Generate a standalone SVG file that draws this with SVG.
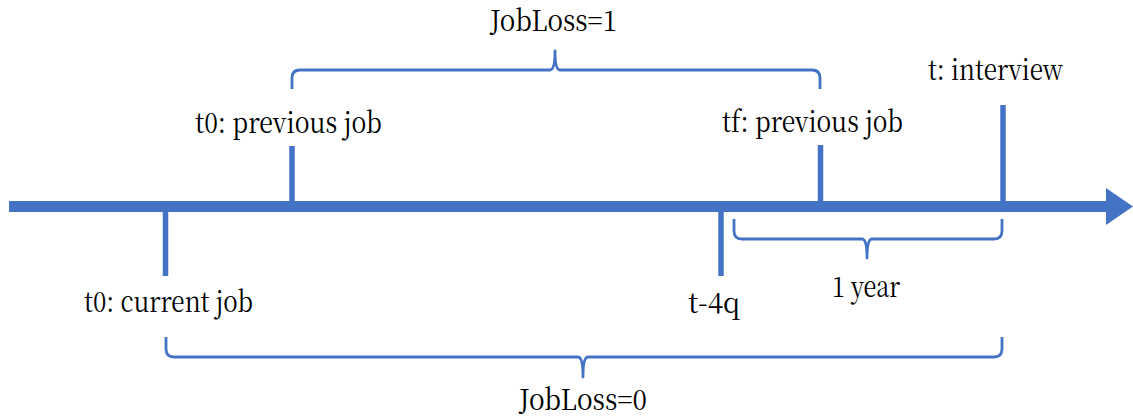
<svg xmlns="http://www.w3.org/2000/svg" width="1133" height="417" viewBox="0 0 1133 417">
  <style>
    .lbl { font-family: 'Noto Serif CJK SC', 'DejaVu Serif', serif; font-size: 28.5px; fill: #000; }
    .tick { stroke: #4472C4; stroke-width: 5.5; fill: none; }
    .brace { stroke: #4472C4; stroke-width: 2.8; fill: none; stroke-linejoin: round; }
  </style>
  <rect width="1133" height="417" fill="#fff"/>
  <g id="connectors">
    <g id="axis">
      <rect x="9" y="201" width="1100" height="11" fill="#4472C4"/>
      <polygon points="1106,188 1133,206.5 1106,225" fill="#4472C4"/>
    </g>
    <line class="tick" x1="165.5" y1="212" x2="165.5" y2="276"/>
    <line class="tick" x1="292" y1="146" x2="292" y2="201"/>
    <line class="tick" x1="721" y1="212" x2="721" y2="276"/>
    <line class="tick" x1="820.5" y1="145" x2="820.5" y2="201"/>
    <line class="tick" x1="1003" y1="105" x2="1003" y2="201"/>
    <path class="brace" d="M292,89 L292,78 Q292,70 300,70 L550,70 Q555,70 555,51 Q555,70 560,70 L812,70 Q820,70 820,78 L820,89"/>
    <path class="brace" d="M734,219 L734,231 Q734,239 742,239 L862,239 Q867,239 867,258 Q867,239 872,239 L994,239 Q1002,239 1002,231 L1002,219"/>
    <path class="brace" d="M166,337 L166,349 Q166,357 174,357 L578,357 Q583,357 583,377 Q583,357 588,357 L994,357 Q1002,357 1002,349 L1002,337"/>
  </g>
  <g id="node-jobloss1"><text class="lbl" x="490" y="31" textLength="127" lengthAdjust="spacingAndGlyphs">JobLoss=1</text></g>
  <g id="node-t0-previous"><text class="lbl" x="195" y="133" textLength="187" lengthAdjust="spacingAndGlyphs">t0: previous job</text></g>
  <g id="node-tf-previous"><text class="lbl" x="722" y="132" textLength="181" lengthAdjust="spacingAndGlyphs">tf: previous job</text></g>
  <g id="node-interview"><text class="lbl" x="928" y="80" textLength="135" lengthAdjust="spacingAndGlyphs">t: interview</text></g>
  <g id="node-t0-current"><text class="lbl" x="84" y="312" textLength="169" lengthAdjust="spacingAndGlyphs">t0: current job</text></g>
  <g id="node-t4q"><text class="lbl" x="688" y="313" textLength="52" lengthAdjust="spacingAndGlyphs">t-4q</text></g>
  <g id="node-1year"><text class="lbl" x="832" y="297" textLength="68" lengthAdjust="spacingAndGlyphs">1 year</text></g>
  <g id="node-jobloss0"><text class="lbl" x="519" y="410" textLength="128" lengthAdjust="spacingAndGlyphs">JobLoss=0</text></g>
</svg>
